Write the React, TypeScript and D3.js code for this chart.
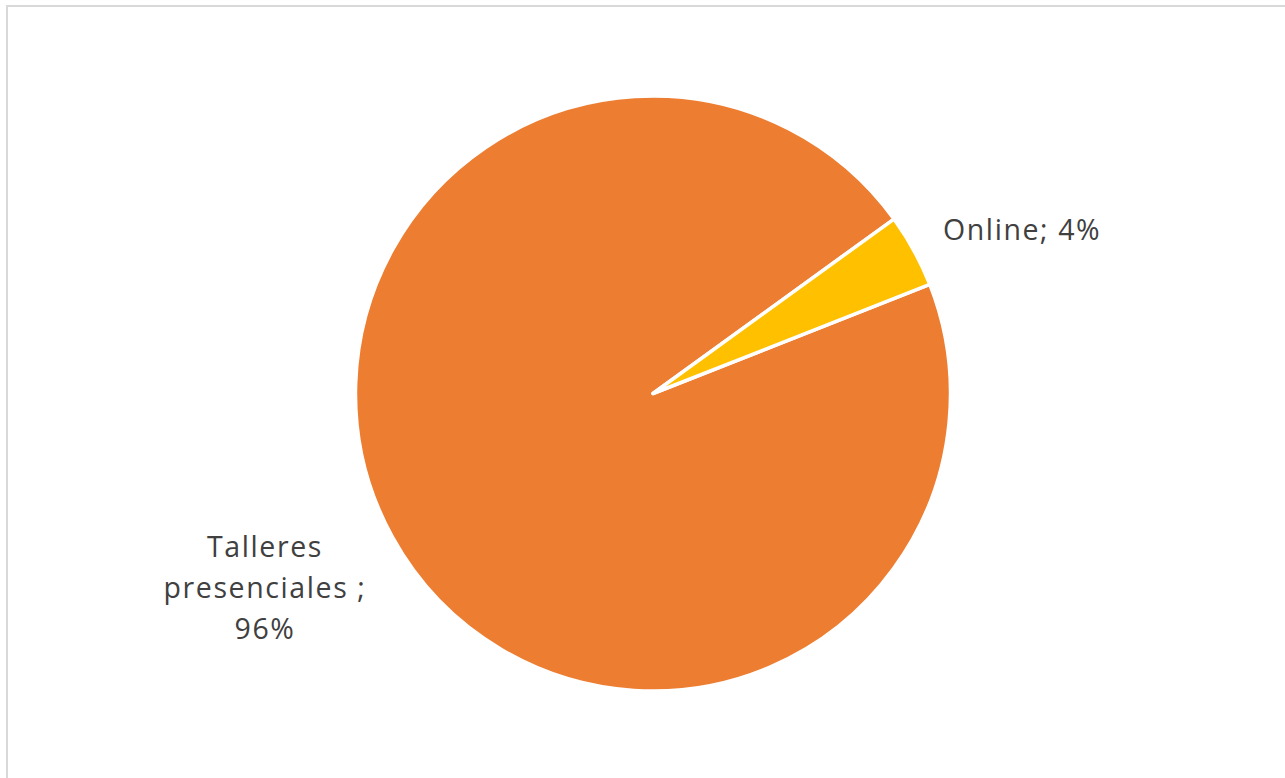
import * as d3 from 'd3'

const width = 1285
const height = 778
const cx = 653
const cy = 393.5
const radius = 297.5

const categories = ['Talleres presenciales', 'Online']
const values = [96, 4]
const colors = ['#ED7D31', '#FFC000']
const labelLines = [['Talleres', 'presenciales ;', '96%'], ['Online; 4%']]

type Slice = { name: string; value: number; color: string; lines: string[] }

const slices: Slice[] = categories.map((name, i) => ({
  name,
  value: values[i],
  color: colors[i],
  lines: labelLines[i],
}))

// first slice starts a bit past 2 o'clock, like the original
const startDeg = 68.5

export default function App() {
  const pie = d3
    .pie<Slice>()
    .sort(null)
    .value(d => d.value)
    .startAngle((startDeg * Math.PI) / 180)
    .endAngle((startDeg * Math.PI) / 180 + 2 * Math.PI)

  const arc = d3.arc<d3.PieArcDatum<Slice>>().innerRadius(0).outerRadius(radius)
  const arcs = pie(slices)

  // label anchors (outside the big slice on the left, next to the thin one on the right)
  const labelPos = [
    { x: cx - 388, y: cy + 163, anchor: 'middle' },
    { x: cx + 290, y: cy - 154, anchor: 'start' },
  ]

  return (
    <svg
      width={width}
      height={height}
      style={{ position: 'absolute', left: 0, top: 0 }}
      fontFamily="'Open Sans', 'Noto Sans', sans-serif"
    >
      <rect x={0} y={0} width={width} height={height} fill="#fff" />
      <rect x={7} y={6} width={width + 20} height={height + 20} fill="#fff" stroke="#d9d9d9" strokeWidth={2} />
      <g transform={`translate(${cx},${cy})`}>
        {arcs.map((a, i) => (
          <path key={i} d={arc(a) ?? ''} fill={a.data.color} stroke="#fff" strokeWidth={3.5} strokeLinejoin="round" />
        ))}
      </g>
      {arcs.map((a, i) => (
        <text
          key={i}
          x={labelPos[i].x}
          y={labelPos[i].y}
          textAnchor={labelPos[i].anchor}
          fontSize={28.5}
          fill="#404040"
          letterSpacing={1.6}
        >
          {a.data.lines.map((line, j) => (
            <tspan key={j} x={labelPos[i].x} dy={j === 0 ? 0 : 41}>
              {line}
            </tspan>
          ))}
        </text>
      ))}
    </svg>
  )
}
